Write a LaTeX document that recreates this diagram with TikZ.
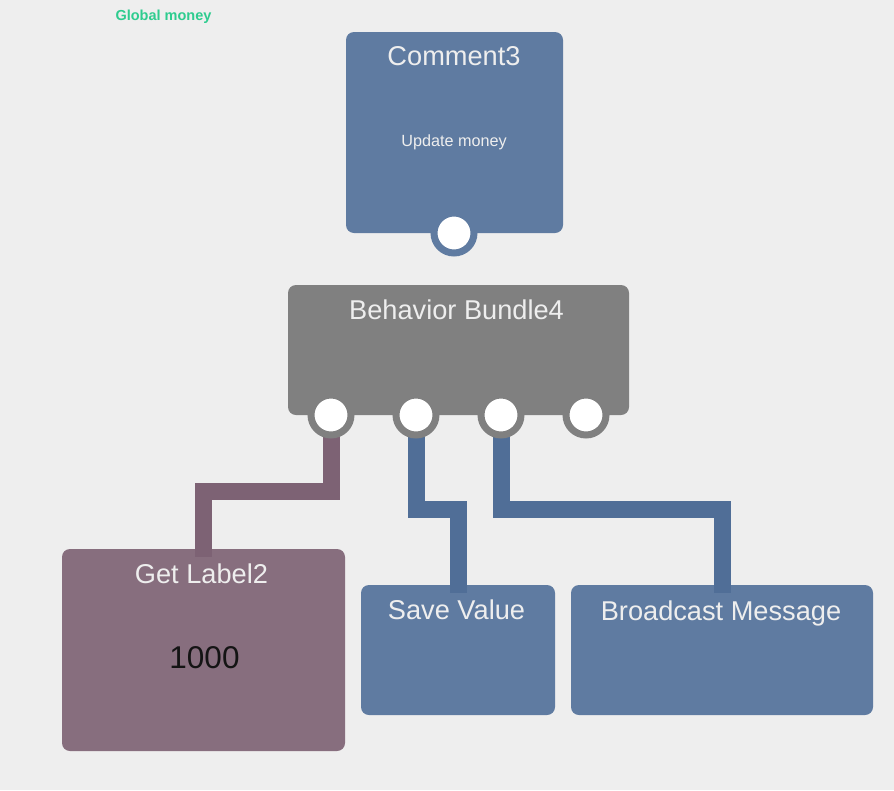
\documentclass[tikz,border=0pt]{standalone}
\usepackage{fontspec}
\setmainfont{Liberation Sans}
\definecolor{bg}{HTML}{EEEEEE}
\definecolor{boxblue}{HTML}{5F7BA1}
\definecolor{wireblue}{HTML}{506E97}
\definecolor{boxmauve}{HTML}{876E7E}
\definecolor{wiremauve}{HTML}{7D6274}
\definecolor{boxgray}{HTML}{808080}
\definecolor{moneygreen}{HTML}{2ECC8F}

\begin{document}
\begin{tikzpicture}[x=1pt,y=-1pt]
\tikzstyle{every node}+=[inner sep=0pt]
\tikzstyle{block}=[rectangle,rounded corners=8pt]
\tikzstyle{title}=[anchor=base,text=bg,font=\fontsize{27.2}{31}\selectfont]
\tikzstyle{port}=[circle,fill=white,minimum size=40pt,line width=7pt]
\tikzstyle{wire}=[line width=17pt]
\fill [bg] (0,0) rectangle (894,790);
\node [anchor=base,text=moneygreen,font=\bfseries\fontsize{14.5}{16}\selectfont] (global) at (163.5,20.5) {Global money};
\node [block,fill=boxblue,minimum width=217pt,minimum height=201pt] (comment) at (454.5,132.5) {};
\node [title] (commenttitle) at (454,65.7) {Comment3};
\node [anchor=base,text=bg,font=\fontsize{16.2}{19}\selectfont] (commenttext) at (454,146.7) {Update money};
\node [block,fill=boxgray,minimum width=341pt,minimum height=130pt] (bundle) at (458.5,350) {};
\node [title] (bundletitle) at (456.5,319) {Behavior Bundle4};
\node [block,fill=boxmauve,minimum width=283pt,minimum height=202pt] (getlbl) at (203.5,650) {};
\node [title] (getlbltitle) at (201.5,583) {Get Label2};
\node [anchor=base,text=black!92,font=\fontsize{31.5}{36}\selectfont] (getlblvalue) at (204.5,668) {1000};
\node [block,fill=boxblue,minimum width=194pt,minimum height=130pt] (savev) at (458,650) {};
\node [title] (savevtitle) at (456.5,619) {Save Value};
\node [block,fill=boxblue,minimum width=302pt,minimum height=130pt] (bcast) at (722,650) {};
\node [title] (bcasttitle) at (721,620) {Broadcast Message};
\coordinate (c1) at (454,233);
\coordinate (b1) at (331,415);
\coordinate (b2) at (416,415);
\coordinate (b3) at (501,415);
\coordinate (b4) at (586,415);
\draw [wiremauve,wire] (b1) -- ++(0,76.5) -| ([yshift=-8pt]getlbl.north);
\draw [wireblue,wire] (b2) -- ++(0,94) -| ([yshift=-8pt]savev.north);
\draw [wireblue,wire] (b3) -- ++(0,94.5) -| ([yshift=-8pt]bcast.north);
\node [port,draw=boxblue] (commentout) at (c1) {};
\node [port,draw=boxgray] (bundleout1) at (b1) {};
\node [port,draw=boxgray] (bundleout2) at (b2) {};
\node [port,draw=boxgray] (bundleout3) at (b3) {};
\node [port,draw=boxgray] (bundleout4) at (b4) {};
\end{tikzpicture}
\end{document}
